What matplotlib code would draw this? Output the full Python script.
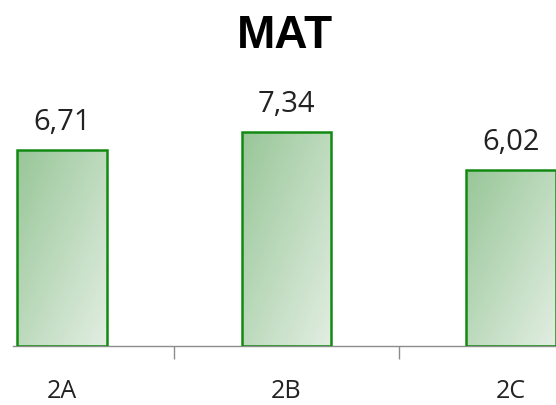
import numpy as np
import matplotlib
matplotlib.use("Agg")
import matplotlib.pyplot as plt
from matplotlib.colors import LinearSegmentedColormap

# dados
turmas = ["2A", "2B", "2C"]
medias = [6.71, 7.34, 6.02]
titulo = "MAT"

W, H = 556, 406
fig = plt.figure(figsize=(W / 100, H / 100), dpi=100)
ax = fig.add_axes([13 / W, 59 / H, 1 - 13 / W, 250 / H])

pos = np.arange(len(turmas))
barras = ax.bar(pos, medias, width=0.40, color="none", edgecolor="#128a12",
                linewidth=1.8, zorder=3)

# gradiente diagonal (escuro em cima a esquerda, claro embaixo a direita)
cmap = LinearSegmentedColormap.from_list("verde", ["#98c698", "#e2eee2"])
u, v = np.meshgrid(np.linspace(0, 1, 100), np.linspace(0, 1, 200))
grad = (u + v) / 2
for b in barras:
    x0, y0 = b.get_x(), b.get_y()
    x1, y1 = x0 + b.get_width(), y0 + b.get_height()
    im = ax.imshow(grad, cmap=cmap, extent=[x0, x1, y0, y1], aspect="auto",
                   origin="upper", zorder=2, interpolation="bilinear")
    im.set_clip_path(b)
    ax.annotate(f"{b.get_height():.2f}".replace(".", ","),
                (x0 + b.get_width() / 2, y1), xytext=(0, 15),
                textcoords="offset points", ha="center", va="baseline",
                fontsize=21, family="Open Sans", color="#222222")

ax.set_xlim(-0.218, 2.2)
ax.set_ylim(0, 250 / 29.2)

for s in ["left", "top", "right"]:
    ax.spines[s].set_visible(False)
ax.spines["bottom"].set_color("#8c8c8c")
ax.spines["bottom"].set_linewidth(1.0)
ax.set_yticks([])

ax.set_xticks(pos)
ax.set_xticklabels(turmas, family="Open Sans", fontsize=18, color="#222222")
ax.tick_params(axis="x", which="major", length=0, pad=23)
ax.set_xticks(pos[:-1] + 0.5, minor=True)
ax.tick_params(axis="x", which="minor", length=9, width=1, color="#8c8c8c",
               direction="out")

fig.text((13 + W) / 2 / W, (H - 48) / H, titulo, ha="center", va="baseline",
         fontsize=33, fontweight="bold", family="Liberation Sans")

fig.savefig("out.png", dpi=100)
